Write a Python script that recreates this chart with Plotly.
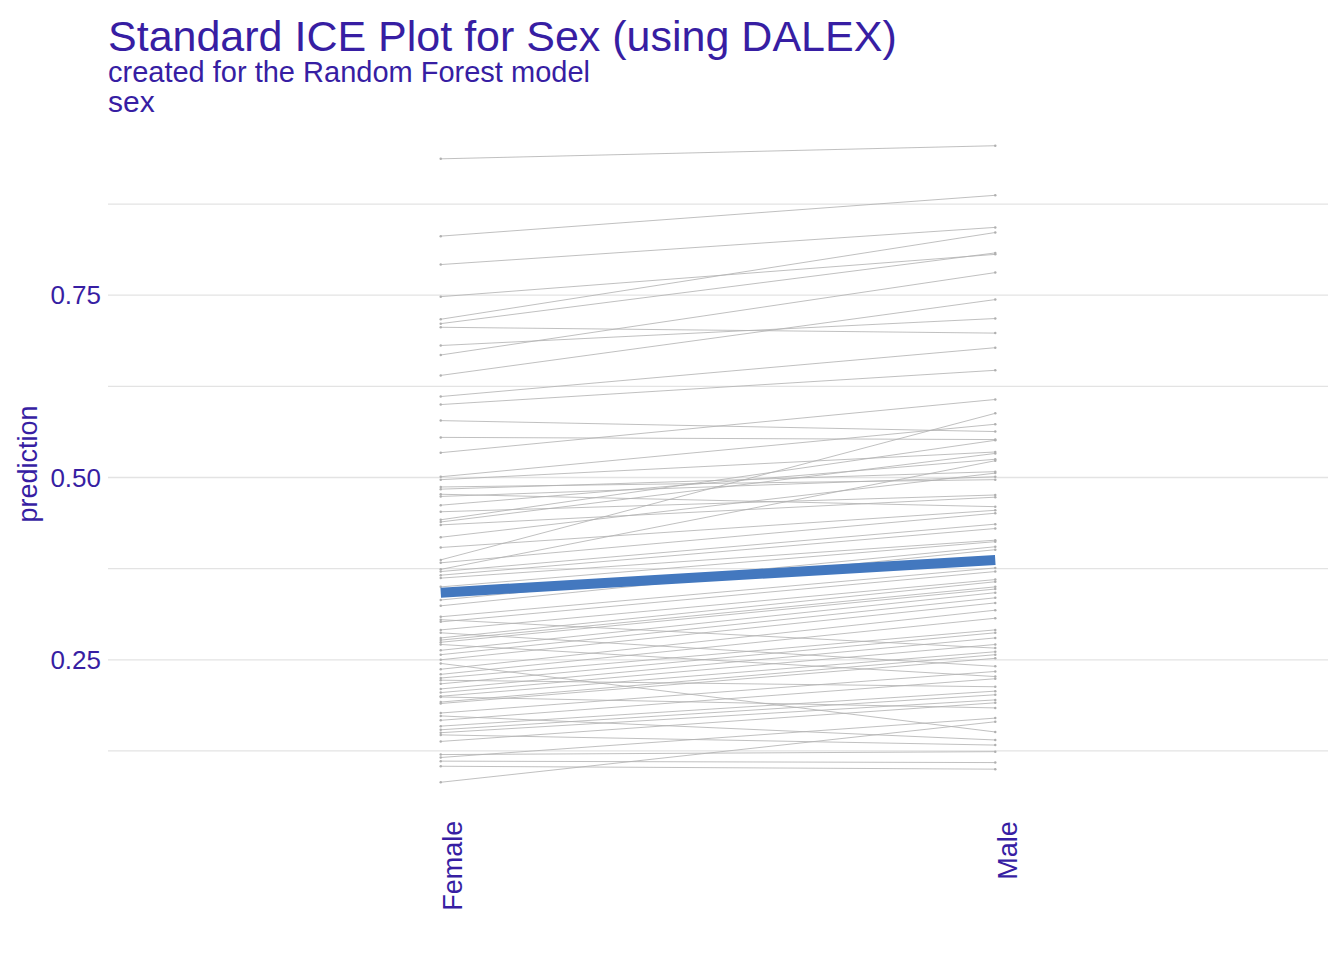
import plotly.graph_objects as go

categories = ["Female", "Male"]

female_pred = [0.937, 0.831, 0.792, 0.748, 0.717, 0.711, 0.706, 0.681, 0.668, 0.640,
               0.611, 0.600, 0.578, 0.555, 0.534, 0.501, 0.497, 0.487, 0.484, 0.477,
               0.474, 0.462, 0.453, 0.442, 0.439, 0.435, 0.418, 0.404, 0.387, 0.383,
               0.374, 0.371, 0.366, 0.362, 0.350, 0.332, 0.324, 0.309, 0.305, 0.302,
               0.291, 0.287, 0.280, 0.277, 0.274, 0.271, 0.263, 0.257, 0.250, 0.237,
               0.230, 0.225, 0.222, 0.217, 0.210, 0.205, 0.200, 0.199, 0.192, 0.190,
               0.177, 0.173, 0.167, 0.159, 0.154, 0.150, 0.147, 0.138, 0.120, 0.116,
               0.111, 0.104, 0.082, 0.245]
male_pred = [0.955, 0.887, 0.843, 0.806, 0.836, 0.808, 0.698, 0.718, 0.781, 0.744,
             0.678, 0.647, 0.563, 0.552, 0.607, 0.573, 0.535, 0.497, 0.508, 0.460,
             0.501, 0.525, 0.476, 0.551, 0.533, 0.473, 0.506, 0.455, 0.588, 0.451,
             0.523, 0.436, 0.430, 0.414, 0.412, 0.405, 0.401, 0.376, 0.266, 0.371,
             0.360, 0.241, 0.357, 0.350, 0.347, 0.227, 0.342, 0.335, 0.328, 0.318,
             0.307, 0.291, 0.213, 0.287, 0.280, 0.271, 0.261, 0.184, 0.257, 0.252,
             0.234, 0.140, 0.224, 0.207, 0.202, 0.195, 0.133, 0.191, 0.124, 0.170,
             0.109, 0.100, 0.165, 0.151]

aggregate_profile = [0.342, 0.387]

y_ticks = [0.25, 0.50, 0.75]
y_tick_labels = ["0.25", "0.50", "0.75"]
y_minor = [0.125, 0.375, 0.625, 0.875]

PURPLE = "#371ea3"
FONT = "Liberation Sans, Arial, sans-serif"

xs, ys = [], []
for f, m in zip(female_pred, male_pred):
    xs += [0, 1, None]
    ys += [f, m, None]

fig = go.Figure()
fig.add_trace(go.Scatter(
    x=xs, y=ys, mode="lines+markers",
    line=dict(color="#b0b0b0", width=0.8),
    marker=dict(color="#b0b0b0", size=2.5),
    hoverinfo="skip", showlegend=False))
fig.add_trace(go.Scatter(
    x=[0, 1], y=aggregate_profile, mode="lines",
    line=dict(color="#4378bf", width=10),
    showlegend=False))

shapes = []
for v in y_minor + y_ticks:
    shapes.append(dict(type="line", xref="paper", yref="y", x0=0, x1=1, y0=v, y1=v,
                       line=dict(color="#e3e3e3", width=1.3), layer="below"))

# page body has an 8px margin; figure is laid out to compensate
TOP = 106
PH = 700

def py(ypix):
    return (814 - ypix) / PH

annotations = [
    dict(text="Standard ICE Plot for Sex (using DALEX)", xref="paper", yref="paper",
         x=0, y=py(36), xanchor="left", yanchor="middle", xshift=-2, showarrow=False,
         font=dict(size=43, color=PURPLE)),
    dict(text="created for the Random Forest model", xref="paper", yref="paper",
         x=0, y=py(72), xanchor="left", yanchor="middle", xshift=-2, showarrow=False,
         font=dict(size=29, color=PURPLE)),
    dict(text="sex", xref="paper", yref="paper",
         x=0, y=py(101), xanchor="left", yanchor="middle", xshift=-2, showarrow=False,
         font=dict(size=30, color=PURPLE)),
]
for i, cat in enumerate(categories):
    annotations.append(dict(text=cat, xref="x", yref="paper", x=i, y=0,
                            xanchor="center", yanchor="top", xshift=12, yshift=-5,
                            textangle=-90, showarrow=False,
                            font=dict(size=27, color=PURPLE)))

fig.update_layout(
    width=1336, height=952,
    margin=dict(l=100, r=16, t=TOP, b=952 - TOP - PH),
    paper_bgcolor="white", plot_bgcolor="white",
    font=dict(family=FONT, color=PURPLE),
    shapes=shapes,
    xaxis=dict(range=[-0.6, 1.6], tickvals=[0, 1], showticklabels=False,
               showgrid=False, zeroline=False, showline=False, ticks=""),
    yaxis=dict(range=[0.0385, 0.9985], tickvals=y_ticks, ticktext=y_tick_labels,
               showgrid=False, zeroline=False, showline=False,
               tickfont=dict(size=26, color=PURPLE), ticks="", ticklabelstandoff=6,
               title=dict(text="prediction", font=dict(size=27, color=PURPLE), standoff=4)),
    annotations=annotations,
)

fig.write_html("out.html")
